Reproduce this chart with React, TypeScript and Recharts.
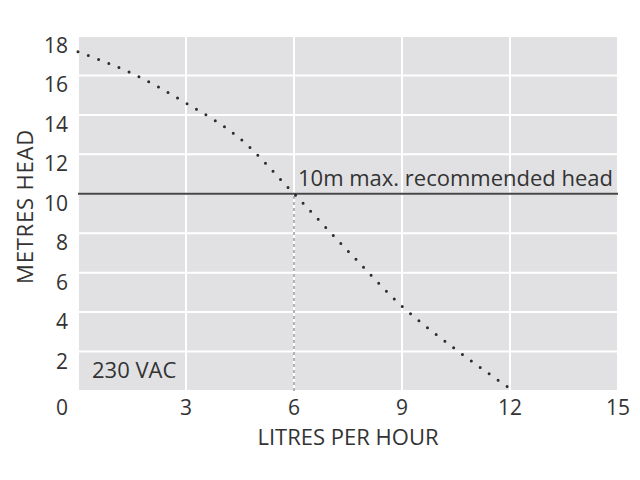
import React from "react";
import {
  LineChart,
  Line,
  XAxis,
  YAxis,
  CartesianGrid,
  ReferenceLine,
} from "recharts";

// litres per hour vs metres head
const flow = [0, 1.5, 3, 4.5, 6, 7.5, 9, 10.5, 12.1];
const head = [17.2, 16.1, 14.6, 12.8, 10, 7.1, 4.3, 2.1, 0];

const xTicks = [0, 3, 6, 9, 12, 15];
const yTicks = [0, 2, 4, 6, 8, 10, 12, 14, 16, 18];

const MAX_HEAD = 10;
const MAX_FLOW_AT_HEAD = 6;

const FONT = "'Open Sans', 'DejaVu Sans', sans-serif";
const TEXT = "#333333";

const data = flow.map((x, i) => ({ x, y: head[i] }));

const XTick = (props: any) => {
  const { x, y, payload } = props;
  // the "0" sits under the y axis labels
  const dx = payload.value === 0 ? -16 : 0;
  return (
    <text
      x={x + dx}
      y={y}
      dy="0.71em"
      textAnchor="middle"
      fontSize={21}
      fontFamily={FONT}
      fill={TEXT}
    >
      {payload.value}
    </text>
  );
};

const YTick = (props: any) => {
  const { x, y, payload } = props;
  if (payload.value === 0) return null;
  return (
    <text
      x={x}
      y={y}
      dy={17}
      textAnchor="end"
      fontSize={21}
      fontFamily={FONT}
      fill={TEXT}
    >
      {payload.value}
    </text>
  );
};

export default function App() {
  return (
    <div style={{ position: "absolute", left: 0, top: 0, background: "#fff" }}>
      <LineChart
        width={640}
        height={480}
        data={data}
        margin={{ top: 36, right: 22, bottom: 29, left: 0 }}
      >
        <CartesianGrid fill="#e1e1e3" stroke="#ffffff" strokeWidth={2} />
        <XAxis
          dataKey="x"
          type="number"
          domain={[0, 15]}
          ticks={xTicks}
          height={60}
          tickSize={0}
          tickMargin={9}
          axisLine={false}
          tickLine={false}
          tick={<XTick />}
          label={{
            value: "LITRES PER HOUR",
            position: "insideBottom",
            offset: 6,
            fontSize: 22,
            fontFamily: FONT,
            fill: TEXT,
          }}
        />
        <YAxis
          type="number"
          domain={[0, 18]}
          ticks={yTicks}
          width={78}
          tickSize={0}
          tickMargin={10}
          axisLine={false}
          tickLine={false}
          tick={<YTick />}
          label={(p: any) => {
            const vb = p.viewBox;
            const cx = vb.x + 25;
            const cy = vb.y + vb.height / 2 - 7;
            return (
              <text
                x={cx}
                y={cy}
                dy={8}
                transform={`rotate(-90 ${cx} ${cy})`}
                textAnchor="middle"
                fontSize={22}
                letterSpacing={0.8}
                fontFamily={FONT}
                fill={TEXT}
              >
                METRES HEAD
              </text>
            );
          }}
        />
        <ReferenceLine
          segment={[
            { x: MAX_FLOW_AT_HEAD, y: 0 },
            { x: MAX_FLOW_AT_HEAD, y: MAX_HEAD },
          ]}
          stroke="#ffffff"
          strokeWidth={2}
        />
        <ReferenceLine
          segment={[
            { x: MAX_FLOW_AT_HEAD, y: 0 },
            { x: MAX_FLOW_AT_HEAD, y: MAX_HEAD },
          ]}
          stroke="#9a9a9a"
          strokeWidth={1.5}
          strokeDasharray="3 3"
        />
        <ReferenceLine
          y={0}
          stroke="none"
          label={(p: any) => {
            const vb = p.viewBox;
            return (
              <text
                x={vb.x + 14}
                y={vb.y - 13}
                fontSize={22}
                fontFamily={FONT}
                fill={TEXT}
              >
                230 VAC
              </text>
            );
          }}
        />
        <ReferenceLine
          y={MAX_HEAD}
          stroke="#454545"
          strokeWidth={2}
          label={(p: any) => {
            const vb = p.viewBox;
            return (
              <text
                x={vb.x + (vb.width * MAX_FLOW_AT_HEAD) / 15 + 4}
                y={vb.y - 8}
                fontSize={22}
                fontFamily={FONT}
                fill={TEXT}
              >
                10m max. recommended head
              </text>
            );
          }}
        />
        <Line
          dataKey="y"
          type="monotone"
          stroke="#2b2b2b"
          strokeWidth={3}
          strokeDasharray="0 11"
          strokeLinecap="round"
          dot={false}
          activeDot={false}
          isAnimationActive={false}
        />
      </LineChart>
    </div>
  );
}
